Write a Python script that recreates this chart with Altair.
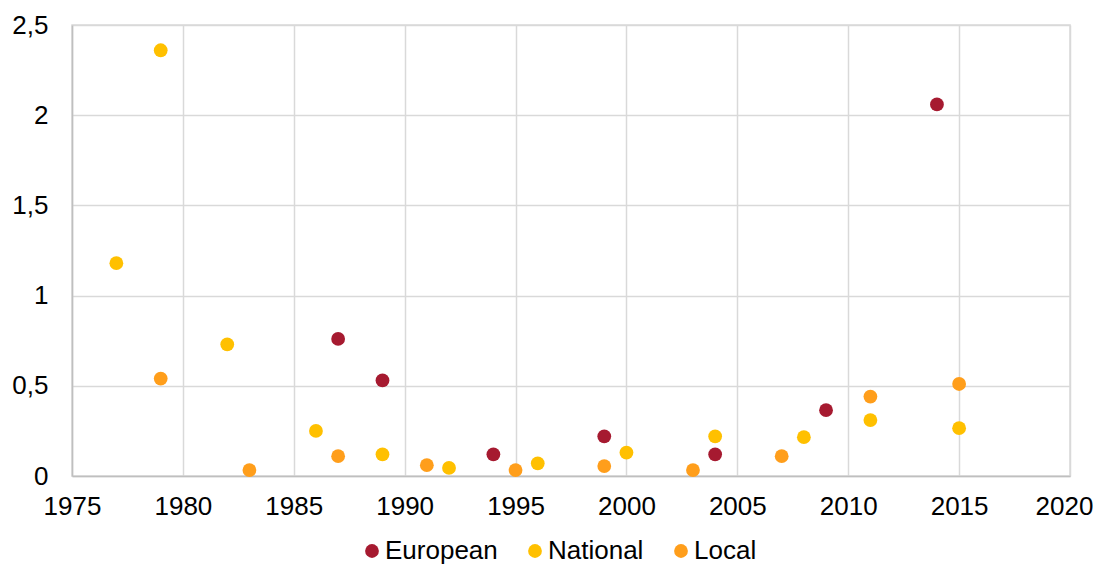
import altair as alt
import pandas as pd

eu_years = [1987, 1989, 1994, 1999, 2004, 2009, 2014]
eu_vals = [0.76, 0.53, 0.12, 0.22, 0.12, 0.365, 2.06]
nat_years = [1977, 1979, 1982, 1986, 1989, 1992, 1996, 2000, 2004, 2008, 2011, 2015]
nat_vals = [1.18, 2.36, 0.73, 0.25, 0.12, 0.045, 0.07, 0.13, 0.22, 0.215, 0.31, 0.265]
loc_years = [1979, 1983, 1987, 1991, 1995, 1999, 2003, 2007, 2011, 2015]
loc_vals = [0.54, 0.033, 0.11, 0.06, 0.033, 0.055, 0.033, 0.11, 0.44, 0.51]

series = ["European", "National", "Local"]
colors = ["#A61A30", "#FFC000", "#FF9E1B"]

rows = []
for name, ys, vs in [("European", eu_years, eu_vals), ("National", nat_years, nat_vals), ("Local", loc_years, loc_vals)]:
    for y, v in zip(ys, vs):
        rows.append({"year": y, "value": v, "series": name})
df = pd.DataFrame(rows)

FONT = "Liberation Sans"
FS = 26

chart = alt.Chart(df).mark_circle(size=190, opacity=1).encode(
    x=alt.X("year:Q", scale=alt.Scale(domain=[1975, 2020], nice=False, zero=False),
            axis=alt.Axis(title=None, values=list(range(1975, 2021, 5)), format="d",
                          ticks=False, labelFontSize=FS, labelFont=FONT, labelColor="#000",
                          labelPadding=17, domainColor="#BFBFBF", gridColor="#D9D9D9",
                          gridWidth=1.5, domainWidth=1.5, labelFlush=False,
                          labelOffset={"condition": {"test": "datum.value == 2020", "value": -6}, "value": 0})),
    y=alt.Y("value:Q", scale=alt.Scale(domain=[0, 2.5], nice=False),
            axis=alt.Axis(title=None, values=[0, 0.5, 1, 1.5, 2, 2.5], ticks=False,
                          format="~g",
                          labelExpr="replace(datum.label, '.', ',')",
                          labelFontSize=FS, labelFont=FONT, labelColor="#000",
                          labelPadding=24, domainColor="#BFBFBF", gridColor="#D9D9D9",
                          gridWidth=1.5, domainWidth=1.5, labelFlush=False)),
    color=alt.Color("series:N", scale=alt.Scale(domain=series, range=colors),
                    legend=alt.Legend(title=None, orient="none", direction="horizontal",
                                      legendX=287, legendY=513, labelFontSize=FS,
                                      labelFont=FONT, labelColor="#000", symbolSize=190,
                                      symbolType="circle", labelOffset=0, columnPadding=24,
                                      symbolStrokeWidth=0)),
    order=alt.Order("series:N"),
).properties(
    width=998, height=451,
    autosize=alt.AutoSizeParams(type="none"),
    padding={"left": 64, "top": 17, "right": 23, "bottom": 89},
).configure_view(stroke="#D9D9D9", strokeWidth=1.5)

chart.save("out.html", embed_options={"renderer": "svg", "actions": False})
